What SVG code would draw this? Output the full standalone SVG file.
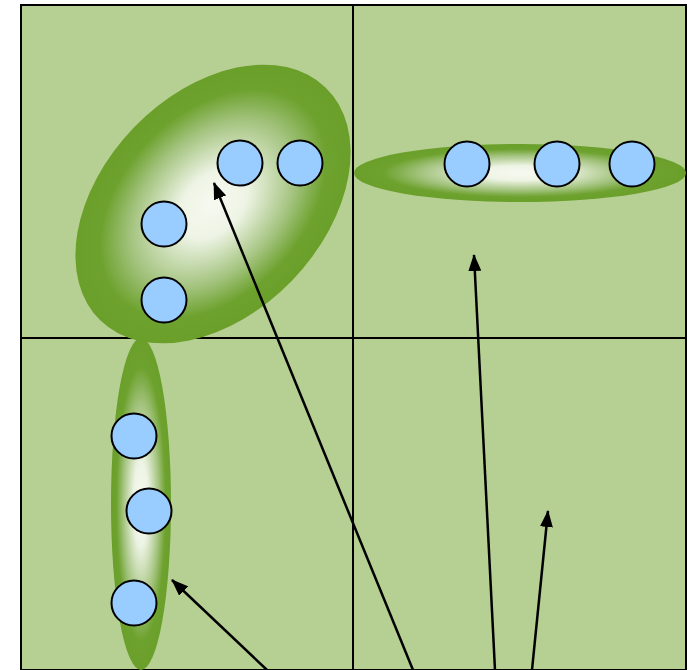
<svg xmlns="http://www.w3.org/2000/svg" width="692" height="670" viewBox="0 0 692 670">
<defs>
<radialGradient id="g" cx="0.5" cy="0.5" r="0.5">
<stop offset="0" stop-color="#f6f9f0"/>
<stop offset="0.25" stop-color="#eef4e5"/>
<stop offset="0.6" stop-color="#a3c37e"/>
<stop offset="0.82" stop-color="#6ea22f"/>
<stop offset="1" stop-color="#6a9f2a"/>
</radialGradient>
<marker id="ah" viewBox="0 0 17 13" refX="16" refY="6.5" markerWidth="17" markerHeight="13" markerUnits="userSpaceOnUse" orient="auto">
<path d="M0,0 L17,6.5 L0,13 Z" fill="#000"/>
</marker>
<style>
.cell{fill:#b6cf93;stroke:#000;stroke-width:2}
.blob{fill:url(#g)}
.n{fill:#99ccff;stroke:#000;stroke-width:2}
.c{stroke:#000;stroke-width:2.5;fill:none;marker-end:url(#ah)}
</style>
</defs>
<g id="grid">
<rect class="cell" x="21" y="5" width="665" height="665"/>
<line x1="353" y1="5" x2="353" y2="670" stroke="#000" stroke-width="2"/>
<line x1="21" y1="338" x2="686" y2="338" stroke="#000" stroke-width="2"/>
</g>
<g id="cluster1">
<ellipse class="blob" cx="0" cy="0" rx="162" ry="110" transform="translate(213,204) rotate(-46)"/>
<circle class="n" cx="240" cy="163" r="22.5"/>
<circle class="n" cx="300" cy="163" r="22.5"/>
<circle class="n" cx="164" cy="224" r="22.5"/>
<circle class="n" cx="164" cy="300" r="22.5"/>
</g>
<g id="cluster2">
<ellipse class="blob" cx="520" cy="173" rx="166" ry="29"/>
<circle class="n" cx="467" cy="164" r="22.5"/>
<circle class="n" cx="557" cy="164" r="22.5"/>
<circle class="n" cx="632" cy="164" r="22.5"/>
</g>
<g id="cluster3">
<ellipse class="blob" cx="141" cy="504" rx="30" ry="166"/>
<circle class="n" cx="134" cy="436" r="22.5"/>
<circle class="n" cx="149" cy="511" r="22.5"/>
<circle class="n" cx="134" cy="603" r="22.5"/>
</g>
<g id="connectors">
<line class="c" x1="413" y1="670" x2="214" y2="183"/>
<line class="c" x1="495" y1="670" x2="474" y2="255"/>
<line class="c" x1="532" y1="670" x2="548" y2="511"/>
<line class="c" x1="267" y1="670" x2="172" y2="580"/>
</g>
</svg>
